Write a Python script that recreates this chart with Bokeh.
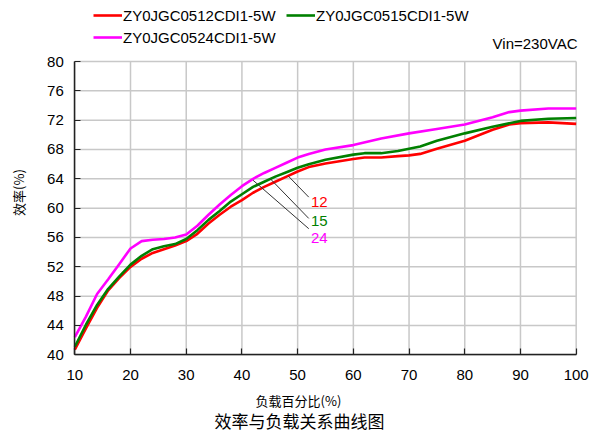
from bokeh.plotting import figure
from bokeh.models import Range1d, FixedTicker, Legend, LegendItem, Label
from bokeh.core.properties import value
from bokeh.embed import file_html
from bokeh.resources import INLINE

# ---- data ----
load_12 = [10, 12, 14, 16, 18, 20, 22, 24, 26, 28, 30, 32, 34, 36, 38, 40, 42, 44, 46, 48,
           50, 52, 55, 60, 62, 65, 68, 70, 72, 75, 80, 85, 88, 90, 95, 100]
eff_12 = [40.7, 43.6, 46.4, 48.8, 50.5, 52.0, 53.1, 53.9, 54.4, 54.9, 55.5, 56.5, 57.9, 59.1,
          60.2, 61.1, 62.1, 62.9, 63.6, 64.3, 65.0, 65.6, 66.1, 66.7, 66.9, 66.9, 67.1, 67.2,
          67.4, 68.1, 69.2, 70.7, 71.4, 71.6, 71.7, 71.5]
load_15 = [10, 12, 14, 16, 18, 20, 22, 24, 26, 28, 30, 32, 34, 36, 38, 40, 42, 44, 46, 48,
           50, 52, 55, 60, 62, 65, 68, 70, 72, 75, 80, 85, 90, 95, 100]
eff_15 = [41.1, 44.1, 46.8, 49.0, 50.7, 52.3, 53.5, 54.4, 54.8, 55.1, 55.8, 57.0, 58.4, 59.6,
          60.9, 61.9, 62.9, 63.6, 64.3, 64.9, 65.5, 66.0, 66.6, 67.3, 67.5, 67.5, 67.8, 68.1,
          68.4, 69.2, 70.2, 71.1, 71.9, 72.2, 72.3]
load_24 = [10, 12, 14, 16, 18, 20, 22, 24, 26, 28, 30, 32, 34, 36, 38, 40, 42, 44, 46, 48,
           50, 52, 55, 60, 65, 70, 75, 80, 85, 88, 90, 95, 100]
eff_24 = [42.4, 45.2, 48.3, 50.3, 52.4, 54.5, 55.5, 55.7, 55.8, 56.0, 56.4, 57.6, 59.1, 60.5,
          61.8, 63.0, 64.0, 64.8, 65.5, 66.2, 66.9, 67.4, 68.0, 68.6, 69.5, 70.2, 70.8, 71.4,
          72.4, 73.1, 73.3, 73.6, 73.6]

series_names = ["ZY0JGC0512CDI1-5W", "ZY0JGC0515CDI1-5W", "ZY0JGC0524CDI1-5W"]
series_colors = ["#FF0000", "#008000", "#FF00FF"]
x_ticks = [10, 20, 30, 40, 50, 60, 70, 80, 90, 100]
y_ticks = [40, 44, 48, 52, 56, 60, 64, 68, 72, 76, 80]

# callout annotations (leader lines and tags)
tag_text = ["12", "15", "24"]
tag_x = [52.4, 52.4, 52.4]
tag_y = [60.9, 58.3, 55.9]
lead_x0 = [48.3, 45.1, 42.0]
lead_y0 = [64.4, 64.0, 63.8]
lead_x1 = [52.0, 52.0, 52.0]
lead_y1 = [61.5, 58.6, 57.2]

title_text = "效率与负载关系曲线图"
x_label = "负载百分比(%)"
y_label = "效率(%)"
cond_text = "Vin=230VAC"

FONT = "Liberation Sans"
CJK = "Noto Sans CJK SC"
W, H = 592, 436

x_lo, x_hi = x_ticks[0], x_ticks[-1]
y_lo, y_hi = y_ticks[0], y_ticks[-1]

# the frame spans the whole canvas; the axes sit at fixed data locations
p = figure(width=W, height=H, output_backend="svg", toolbar_location=None,
           x_range=Range1d(-3.337, 102.93), y_range=Range1d(28.86, 88.32),
           min_border_left=0, min_border_right=0, min_border_top=0, min_border_bottom=0)
p.background_fill_color = "white"
p.border_fill_color = "white"
p.outline_line_color = None
p.xgrid.visible = False
p.ygrid.visible = False

# grid (inside the 10-100 x 40-80 box only)
GRID = "#c8c8c8"
p.segment(x0=x_ticks, y0=[y_lo] * len(x_ticks), x1=x_ticks, y1=[y_hi] * len(x_ticks),
          line_color=GRID, line_width=1.5)
p.segment(x0=[x_lo] * len(y_ticks), y0=y_ticks, x1=[x_hi] * len(y_ticks), y1=y_ticks,
          line_color=GRID, line_width=1.5)

for ax, ticks, loc in ((p.xaxis, x_ticks, y_lo), (p.yaxis, y_ticks, x_lo)):
    ax.ticker = FixedTicker(ticks=ticks)
    ax.fixed_location = loc
    ax.bounds = (ticks[0], ticks[-1])
    ax.minor_tick_line_color = None
    ax.major_tick_in = 6
    ax.major_tick_out = 0
    ax.axis_line_color = "#222222"
    ax.axis_line_width = 1.5
    ax.major_tick_line_color = "#222222"
    ax.major_tick_line_width = 1.2
    ax.major_label_text_font = FONT
    ax.major_label_text_font_size = "15px"
    ax.major_label_text_color = "black"
p.xaxis.major_label_standoff = 15
p.yaxis.major_label_standoff = 11

renderers = []
for xs, ys, c in ((load_12, eff_12, series_colors[0]),
                  (load_15, eff_15, series_colors[1]),
                  (load_24, eff_24, series_colors[2])):
    renderers.append(p.line(xs, ys, line_color=c, line_width=2.6))

p.segment(x0=lead_x0, y0=lead_y0, x1=lead_x1, y1=lead_y1, line_color="#333333", line_width=1)
p.text(x=tag_x, y=tag_y, text=tag_text, text_color=series_colors,
       text_font=value(FONT), text_font_size="15px", text_align="left", text_baseline="middle")

# legend grid is filled column by column: (12, 24) in column 1, (15) in column 2
legend_order = [0, 2, 1]
legend = Legend(items=[LegendItem(label=series_names[i], renderers=[renderers[i]]) for i in legend_order],
                ncols=2, location=(93, 390))
legend.label_text_font = FONT
legend.label_text_font_size = "15px"
legend.label_text_color = "black"
legend.glyph_width = 29
legend.glyph_height = 18
legend.label_height = 18
legend.label_width = 159
legend.label_standoff = 1
legend.padding = 0
legend.margin = 0
legend.spacing = 4
legend.border_line_color = None
legend.background_fill_alpha = 0
p.add_layout(legend, "center")

# texts in screen units (origin at the canvas' bottom-left, since the frame fills it)
p.add_layout(Label(x=577, y=H - 43, x_units="screen", y_units="screen", text=cond_text,
                   text_font=FONT, text_font_size="15px", text_color="black",
                   text_align="right", text_baseline="middle"))
p.add_layout(Label(x=298, y=H - 400, x_units="screen", y_units="screen", text=x_label,
                   text_font=CJK, text_font_size="13px", text_color="black",
                   text_align="center", text_baseline="middle"))
p.add_layout(Label(x=299, y=H - 420, x_units="screen", y_units="screen", text=title_text,
                   text_font=CJK, text_font_size="17px", text_color="black",
                   text_align="center", text_baseline="middle"))
p.add_layout(Label(x=18, y=H - 192, x_units="screen", y_units="screen", text=y_label,
                   text_font=CJK, text_font_size="13px", text_color="black",
                   text_align="center", text_baseline="middle", angle=1.5708))

open("out.html", "w").write(file_html(p, INLINE))
